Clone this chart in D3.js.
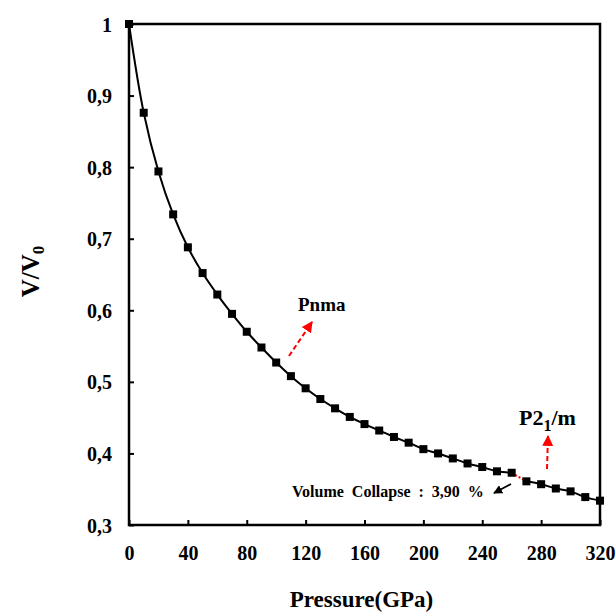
<!DOCTYPE html>
<html>
<head>
<meta charset="utf-8">
<script src="https://cdn.jsdelivr.net/npm/d3@7/dist/d3.min.js"></script>
<style>
  html, body { margin: 0; padding: 0; background: #fff; }
</style>
</head>
<body>
<svg id="chart" width="616" height="613"></svg>
<script>
// Equation of state: relative volume V/V0 versus pressure
const pnmaPressure = [0, 10, 20, 30, 40, 50, 60, 70, 80, 90, 100, 110, 120, 130, 140, 150, 160, 170, 180, 190, 200, 210, 220, 230, 240, 250, 260];
const pnmaVolume   = [1.000, 0.876, 0.794, 0.734, 0.688, 0.652, 0.622, 0.595, 0.570, 0.548, 0.527, 0.508, 0.491, 0.476, 0.463, 0.451, 0.441, 0.432, 0.423, 0.415, 0.406, 0.400, 0.393, 0.386, 0.381, 0.375, 0.373];
const p21mPressure = [270, 280, 290, 300, 310, 320];
const p21mVolume   = [0.361, 0.357, 0.351, 0.347, 0.339, 0.334];
const xTicks = [0, 40, 80, 120, 160, 200, 240, 280, 320];
const yTicks = [0.3, 0.4, 0.5, 0.6, 0.7, 0.8, 0.9, 1.0];
const yTickLabels = ["0,3", "0,4", "0,5", "0,6", "0,7", "0,8", "0,9", "1"];

const FONT = "Liberation Serif";

const svg = d3.select("#chart");
const margin = { left: 129, right: 16, top: 24, bottom: 88 };
const W = 616, H = 613;

const x = d3.scaleLinear().domain([0, 320]).range([margin.left, W - margin.right]);
const y = d3.scaleLinear().domain([0.3, 1.0]).range([H - margin.bottom, margin.top]);

const pnma = pnmaPressure.map((p, i) => ({ p, v: pnmaVolume[i] }));
const p21m = p21mPressure.map((p, i) => ({ p, v: p21mVolume[i] }));

// Arrow heads
const defs = svg.append("defs");
function marker(id, color, size) {
  defs.append("marker")
    .attr("id", id)
    .attr("viewBox", "0 0 10 10")
    .attr("refX", 9).attr("refY", 5)
    .attr("markerWidth", size).attr("markerHeight", size)
    .attr("markerUnits", "userSpaceOnUse")
    .attr("orient", "auto")
    .append("path")
    .attr("d", "M0,0 L10,5 L0,10 Z")
    .attr("fill", color);
}
marker("redHead", "#ff0000", 11);
marker("blackHead", "#000", 9);

// Frame
svg.append("rect")
  .attr("x", x(0)).attr("y", y(1))
  .attr("width", x(320) - x(0)).attr("height", y(0.3) - y(1))
  .attr("fill", "none").attr("stroke", "#000").attr("stroke-width", 2.5);

// Axes with inward ticks
const xAxis = d3.axisBottom(x).tickValues(xTicks).tickSizeInner(-5).tickSizeOuter(0).tickFormat(d => d);
const gx = svg.append("g").attr("transform", `translate(0,${y(0.3)})`).call(xAxis)
  .attr("font-family", FONT).attr("font-weight", "bold").attr("font-size", 20);
gx.select(".domain").remove();
gx.selectAll(".tick line").attr("stroke", "#000").attr("stroke-width", 2);
gx.selectAll(".tick text").attr("fill", "#000").attr("dy", 0).attr("y", 35)
  .attr("font-family", FONT).attr("font-weight", "bold");

const yAxis = d3.axisLeft(y).tickValues(yTicks).tickSizeInner(-5).tickSizeOuter(0)
  .tickFormat((d, i) => yTickLabels[i]);
const gy = svg.append("g").attr("transform", `translate(${x(0)},0)`).call(yAxis)
  .attr("font-family", FONT).attr("font-weight", "bold").attr("font-size", 20);
gy.select(".domain").remove();
gy.selectAll(".tick line").attr("stroke", "#000").attr("stroke-width", 2);
gy.selectAll(".tick text").attr("fill", "#000").attr("x", -17).attr("dy", "0.35em")
  .attr("font-family", FONT).attr("font-weight", "bold");

function label(sel) {
  return sel.attr("font-family", FONT).attr("font-weight", "bold").attr("fill", "#000");
}

// Axis titles
label(svg.append("text"))
  .attr("x", (x(0) + x(320)) / 2 - 3).attr("y", 607)
  .attr("text-anchor", "middle").attr("font-size", 23)
  .text("Pressure(GPa)");

const yt = label(svg.append("text"))
  .attr("transform", `translate(39,${(y(0.3) + y(1)) / 2 - 3}) rotate(-90)`)
  .attr("text-anchor", "middle").attr("font-size", 25);
yt.append("tspan").text("V/V");
yt.append("tspan").attr("font-size", 17).attr("dy", 5).text("0");

// Curves
const line = d3.line().x(d => x(d.p)).y(d => y(d.v)).curve(d3.curveCatmullRom.alpha(0.5));
svg.append("path").datum(pnma).attr("d", line)
  .attr("fill", "none").attr("stroke", "#000").attr("stroke-width", 2);
svg.append("path").datum(p21m).attr("d", line)
  .attr("fill", "none").attr("stroke", "#000").attr("stroke-width", 2);
// Transition step between the two phases
svg.append("path").datum([pnma[pnma.length - 1], p21m[0]]).attr("d", line)
  .attr("fill", "none").attr("stroke", "#ff0000").attr("stroke-width", 2)
  .attr("stroke-dasharray", "2,2");

// Square markers
const sq = 8;
svg.append("g").selectAll("rect").data(pnma.concat(p21m)).join("rect")
  .attr("x", d => x(d.p) - sq / 2).attr("y", d => y(d.v) - sq / 2)
  .attr("width", sq).attr("height", sq).attr("fill", "#000");

// Phase labels
label(svg.append("text")).attr("x", 298).attr("y", 311).attr("font-size", 19).text("Pnma");
svg.append("line")
  .attr("x1", 289).attr("y1", 356).attr("x2", 312).attr("y2", 322)
  .attr("stroke", "#ff0000").attr("stroke-width", 2).attr("stroke-dasharray", "5,3")
  .attr("marker-end", "url(#redHead)");

const pl = label(svg.append("text")).attr("x", 519).attr("y", 425).attr("font-size", 22);
pl.append("tspan").text("P2");
pl.append("tspan").attr("font-size", 16).attr("dy", 6).text("1");
pl.append("tspan").attr("dy", -6).text("/m");
svg.append("line")
  .attr("x1", 547).attr("y1", 469).attr("x2", 548).attr("y2", 436)
  .attr("stroke", "#ff0000").attr("stroke-width", 2).attr("stroke-dasharray", "5,3")
  .attr("marker-end", "url(#redHead)");

label(svg.append("text")).attr("x", 292).attr("y", 497).attr("font-size", 16)
  .attr("word-spacing", 4).text("Volume Collapse : 3,90 %");
svg.append("line")
  .attr("x1", 511).attr("y1", 484).attr("x2", 494).attr("y2", 493)
  .attr("stroke", "#000").attr("stroke-width", 1.8)
  .attr("marker-end", "url(#blackHead)");
</script>
</body>
</html>
